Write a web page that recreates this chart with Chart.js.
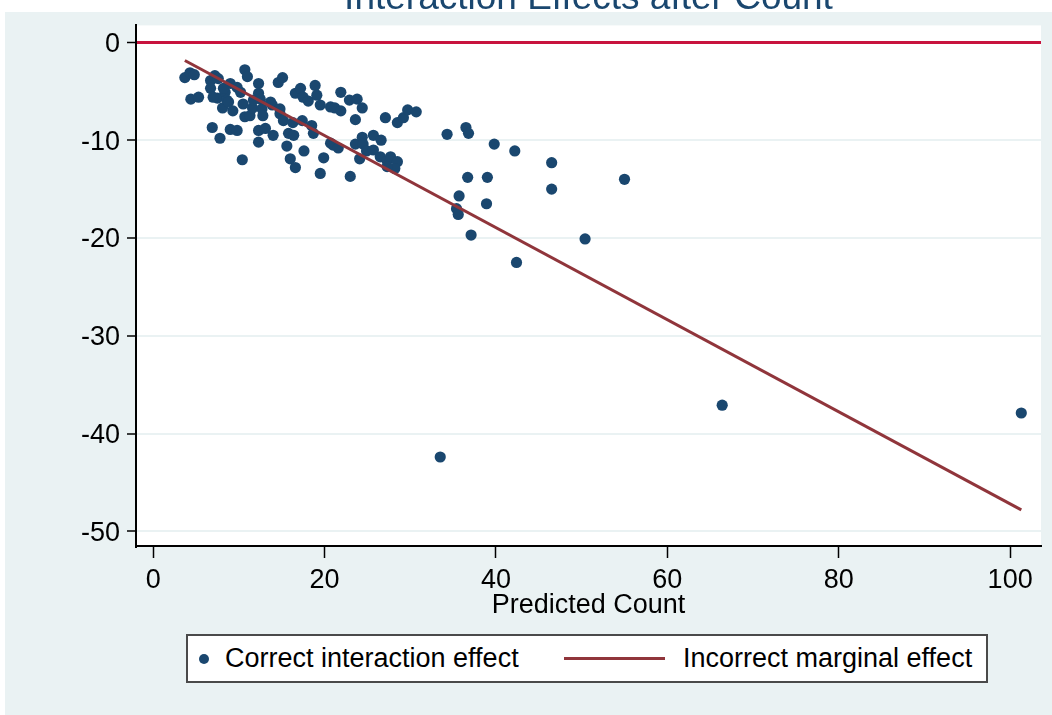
<!DOCTYPE html>
<html lang="en">

<head>
  <meta charset="UTF-8" />
  <title>Interaction Effects after Count</title>
  <style>
    * {
      margin: 0;
      padding: 0;
      box-sizing: border-box;
    }

    body {
      background: #fff;
      width: 1052px;
      height: 715px;
      overflow: hidden;
      font-family: 'Liberation Sans', Arial, sans-serif;
    }

    .frame {
      position: relative;
      width: 1052px;
      height: 715px;
    }

    .backdrop {
      position: absolute;
      left: 5px;
      top: 12px;
      right: 0;
      bottom: 0;
      background: #EAF2F3;
    }

    .chart-box {
      position: absolute;
      left: 0;
      top: 0;
      width: 1052px;
      height: 625px;
    }

    .legend {
      position: absolute;
      left: 186px;
      top: 634px;
      width: 802px;
      height: 49px;
      background: #fff;
      border: 2px solid #4a4a4a;
      font-size: 27px;
      color: #000;
    }

    .legend span {
      position: absolute;
    }

    .legend .dot {
      left: 11px;
      top: 18px;
      width: 10px;
      height: 10px;
      border-radius: 50%;
      background: #1A476F;
    }

    .legend .rule {
      left: 376px;
      top: 21px;
      width: 101px;
      height: 3px;
      background: #90353B;
    }

    .legend .label {
      top: 0;
      line-height: 45px;
      white-space: nowrap;
    }
  </style>
</head>

<body>
  <div class="frame">
    <div class="backdrop"></div>
    <div class="chart-box">
      <canvas id="chartEffects"></canvas>
    </div>
    <div class="legend">
      <span class="dot"></span>
      <span class="label" style="left: 37px;">Correct interaction effect</span>
      <span class="rule"></span>
      <span class="label" style="left: 495px;">Incorrect marginal effect</span>
    </div>
  </div>

  <script src="https://cdn.jsdelivr.net/npm/chart.js"></script>
  <script>
    // correct interaction effect (scatter)
    const correctX = [
      3.7, 4.3, 4.8, 4.4, 5.3, 6.7, 6.7, 7.2, 7.6, 6.9, 7.8, 7.5, 8.1, 8.4, 8.6, 9.0, 9.0, 9.8, 9.3, 9.8,
      10.4, 10.7, 11.0, 10.5, 10.7, 11.3, 11.6, 11.7, 12.3, 12.3, 12.7, 12.8, 13.9, 12.3, 13.1, 12.3, 14.0, 14.6, 15.1, 14.8,
      15.6, 16.0, 16.6, 16.3, 16.6, 17.2, 17.5, 17.4, 17.6, 18.1, 18.5, 18.9, 19.1, 19.5, 18.7, 19.9, 19.5, 20.7, 15.8, 16.4,
      10.2, 8.8, 7.0, 8.2, 12.5, 13.7, 14.8, 15.2, 20.7, 21.2, 21.9, 21.9, 22.9, 23.8, 24.4, 23.6, 27.1, 28.5, 29.2, 29.7,
      30.7, 21.0, 21.6, 23.6, 24.4, 24.5, 25.7, 26.6, 24.1, 24.9, 25.7, 26.5, 27.3, 27.7, 28.5, 28.2, 27.3, 23.0,
      34.3, 36.5, 36.8, 39.8, 42.2, 46.5, 55.0, 36.7, 39.0, 46.5, 35.7, 35.4, 35.6, 38.9, 37.1, 50.4, 42.4, 33.5, 66.4, 101.3
    ];
    const correctY = [
      -3.6, -3.1, -3.3, -5.8, -5.6, -3.9, -4.7, -3.4, -3.7, -8.7, -9.8, -5.7, -6.7, -5.1, -5.9, -4.2, -8.9, -9.0, -7.0, -4.6,
      -12.0, -2.8, -3.5, -6.3, -7.6, -7.5, -6.7, -5.9, -4.2, -5.2, -6.8, -7.5, -6.4, -9.0, -8.8, -10.2, -9.5, -4.1, -3.6, -7.3,
      -10.6, -11.9, -12.8, -8.2, -5.2, -4.7, -5.6, -8.0, -11.1, -6.0, -8.5, -4.4, -5.4, -6.4, -9.3, -11.8, -13.4, -10.3, -9.3, -9.5,
      -5.1, -6.1, -5.6, -4.7, -5.8, -6.1, -6.8, -8.0, -6.6, -6.7, -7.0, -5.1, -5.9, -5.8, -6.7, -7.9, -7.7, -8.2, -7.7, -6.9,
      -7.1, -10.5, -10.8, -10.4, -9.7, -10.4, -9.5, -10.0, -11.9, -11.1, -11.0, -11.7, -12.1, -11.7, -12.2, -12.9, -12.7, -13.7,
      -9.4, -8.7, -9.3, -10.4, -11.1, -12.3, -14.0, -13.8, -13.8, -15.0, -15.7, -17.0, -17.6, -16.5, -19.7, -20.1, -22.5, -42.4, -37.1, -37.9
    ];

    // incorrect marginal effect (straight line over the predicted count range)
    const marginalX = [3.7, 101.3];
    const marginalY = [-1.85, -47.8];

    const xTicks = [0, 20, 40, 60, 80, 100];
    const yTicks = [0, -10, -20, -30, -40, -50];

    const correctPoints = correctX.map((x, i) => ({ x, y: correctY[i] }));
    const marginalPoints = marginalX.map((x, i) => ({ x, y: marginalY[i] }));

    Chart.defaults.font.family = "'Liberation Sans', Arial, sans-serif";
    Chart.defaults.color = '#000';

    // white plot region on top of the grey-blue graph region
    const plotBackground = {
      id: 'plotBackground',
      beforeDraw(chart) {
        const { ctx, chartArea } = chart;
        ctx.save();
        ctx.fillStyle = '#fff';
        ctx.fillRect(chartArea.left, chartArea.top, chartArea.right - chartArea.left, chartArea.bottom - chartArea.top);
        ctx.restore();
      }
    };

    new Chart(document.getElementById('chartEffects'), {
      type: 'scatter',
      data: {
        datasets: [
          {
            type: 'line',
            label: 'Incorrect marginal effect',
            data: marginalPoints,
            borderColor: '#90353B',
            borderWidth: 3,
            pointRadius: 0,
            fill: false,
            order: 0
          },
          {
            label: 'Correct interaction effect',
            data: correctPoints,
            backgroundColor: '#1A476F',
            pointRadius: 5.6,
            pointBorderWidth: 0,
            order: 1
          }
        ]
      },
      plugins: [plotBackground],
      options: {
        responsive: true,
        maintainAspectRatio: false,
        animation: false,
        events: [],
        layout: { padding: { left: 0, right: 11, top: 0, bottom: 0 } },
        plugins: {
          legend: { display: false },
          tooltip: { enabled: false },
          title: {
            display: true,
            fullSize: false,
            text: 'Interaction Effects after Count',
            color: '#1A476F',
            font: { size: 37, weight: 'normal', lineHeight: 1.2 },
            padding: { top: -23, bottom: 4 }
          }
        },
        scales: {
          x: {
            type: 'linear',
            min: -2,
            max: 103.6,
            afterBuildTicks: scale => {
              scale.ticks = xTicks.map(v => ({ value: v }));
            },
            afterFit: scale => { scale.height = 79; },
            grid: {
              drawOnChartArea: false,
              drawTicks: true,
              tickLength: 12,
              tickColor: '#000',
              tickWidth: 1.5
            },
            border: { display: true, color: '#000', width: 2 },
            ticks: {
              font: { size: 27 },
              padding: 6,
              maxRotation: 0
            },
            title: {
              display: true,
              text: 'Predicted Count',
              font: { size: 27 },
              padding: { top: 0, bottom: 3 }
            }
          },
          y: {
            type: 'linear',
            min: -51.5,
            max: 1.74,
            afterBuildTicks: scale => {
              scale.ticks = yTicks.map(v => ({ value: v }));
            },
            afterFit: scale => { scale.width = 136; },
            grid: {
              color: ctx => ctx.tick && ctx.tick.value === 0 ? '#C8133E' : '#EAF2F3',
              lineWidth: ctx => ctx.tick && ctx.tick.value === 0 ? 3 : 2,
              tickLength: 9,
              tickColor: '#000',
              tickWidth: 1.5
            },
            border: { display: true, color: '#000', width: 2 },
            ticks: {
              font: { size: 27 },
              padding: 7,
              labelOffset: 2
            }
          }
        }
      }
    });
  </script>
</body>

</html>
